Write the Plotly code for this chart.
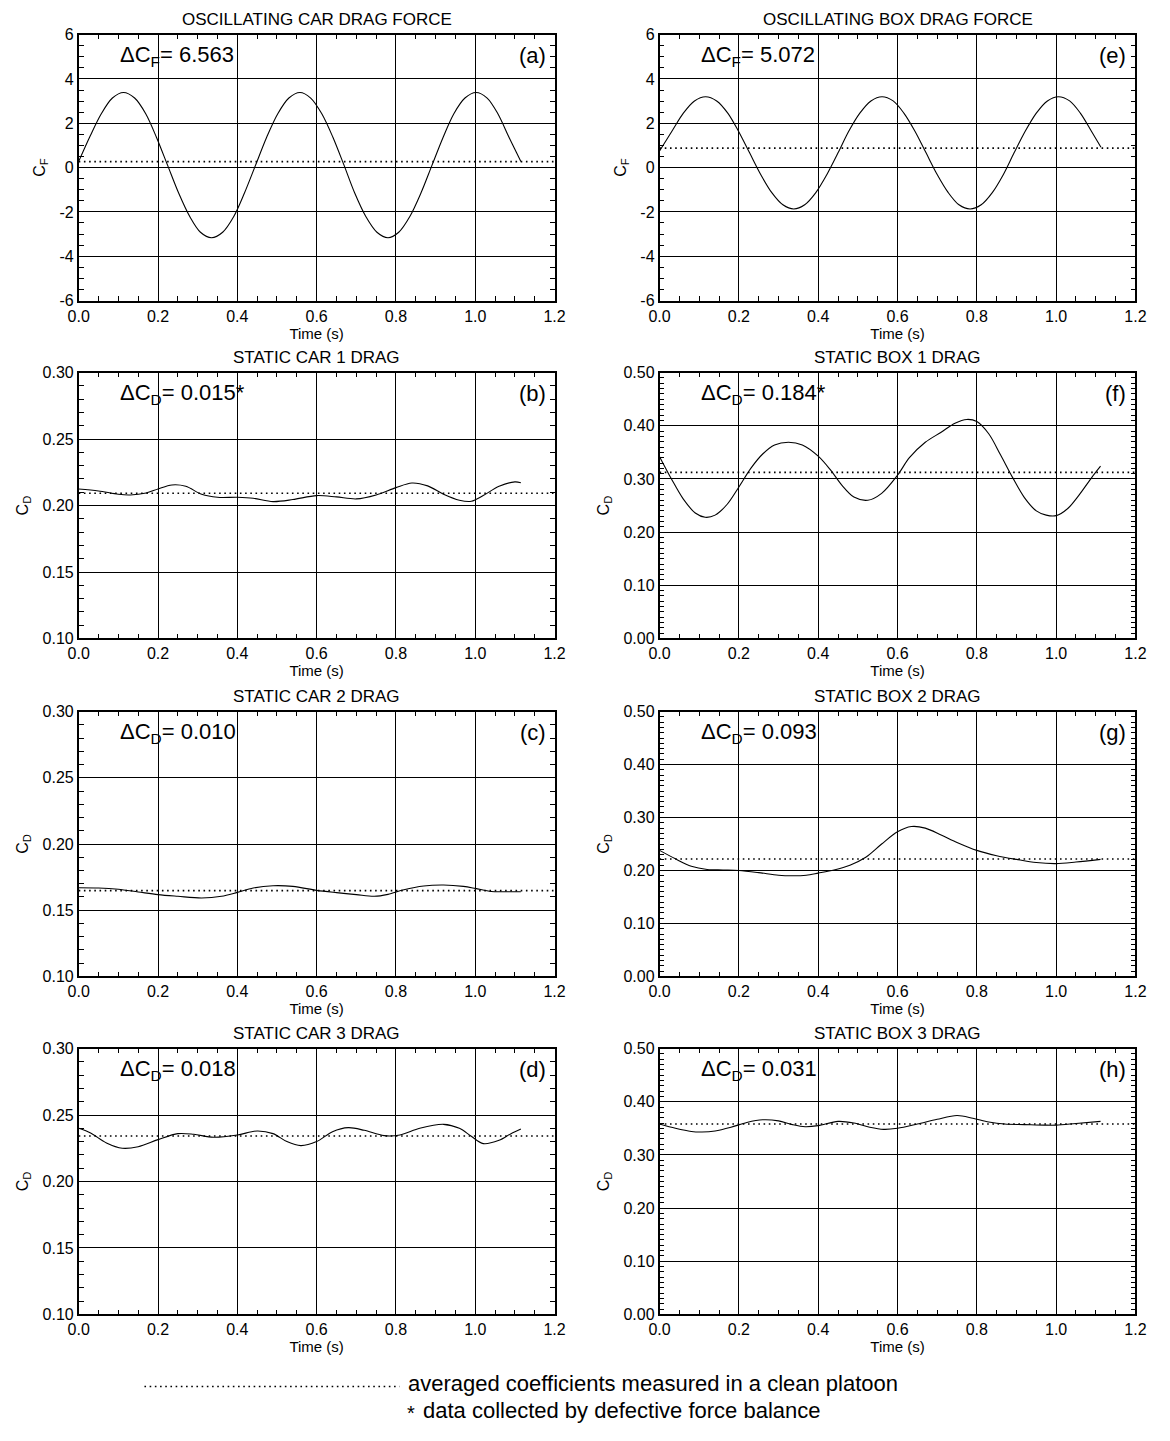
import plotly.graph_objects as go

W, H = 1170, 1441
FONT = "Liberation Sans, Arial, Helvetica, sans-serif"

# ---------------- data: time (s) and coefficient samples ----------------
car_osc_t = [0.000, 0.0295, 0.057, 0.085, 0.113, 0.141, 0.169, 0.196, 0.224, 0.252, 0.280, 0.307,
             0.335, 0.363, 0.391, 0.418, 0.446, 0.474, 0.502, 0.530, 0.558, 0.585, 0.613, 0.641,
             0.669, 0.696, 0.724, 0.752, 0.780, 0.807, 0.835, 0.863, 0.891, 0.919, 0.946, 0.974,
             1.002, 1.030, 1.057, 1.085, 1.115]
car_osc_cf = [0.28, 1.45, 2.43, 3.14, 3.39, 3.14, 2.43, 1.37, 0.11, -1.15, -2.21, -2.92,
              -3.17, -2.92, -2.21, -1.15, 0.11, 1.37, 2.43, 3.14, 3.39, 3.14, 2.43, 1.37,
              0.11, -1.15, -2.21, -2.92, -3.17, -2.92, -2.21, -1.15, 0.11, 1.37, 2.43, 3.14,
              3.39, 3.14, 2.43, 1.37, 0.28]

car1_t = [0.00, 0.05, 0.10, 0.13, 0.17, 0.20, 0.235, 0.27, 0.31, 0.35, 0.40, 0.44, 0.49, 0.54,
          0.60, 0.65, 0.70, 0.75, 0.80, 0.84, 0.88, 0.92, 0.96, 0.99, 1.02, 1.06, 1.10, 1.115]
car1_cd = [0.2125, 0.2110, 0.2085, 0.2080, 0.2095, 0.2125, 0.2155, 0.2145, 0.2085, 0.2062,
           0.2062, 0.2055, 0.2030, 0.2045, 0.2075, 0.2065, 0.2050, 0.2080, 0.2135, 0.2170,
           0.2148, 0.2085, 0.2040, 0.2032, 0.2075, 0.2145, 0.2178, 0.2172]

car2_t = [0.00, 0.05, 0.10, 0.15, 0.20, 0.25, 0.31, 0.36, 0.40, 0.44, 0.49, 0.54, 0.60, 0.65,
          0.70, 0.745, 0.78, 0.82, 0.87, 0.92, 0.97, 1.00, 1.04, 1.08, 1.115]
car2_cd = [0.1670, 0.1668, 0.1658, 0.1638, 0.1618, 0.1605, 0.1592, 0.1605, 0.1635, 0.1668,
           0.1685, 0.1680, 0.1650, 0.1633, 0.1618, 0.1605, 0.1620, 0.1655, 0.1683, 0.1690,
           0.1680, 0.1665, 0.1642, 0.1640, 0.1640]

car3_t = [0.00, 0.03, 0.07, 0.11, 0.15, 0.20, 0.25, 0.29, 0.34, 0.40, 0.45, 0.49, 0.525, 0.56,
          0.60, 0.64, 0.68, 0.72, 0.77, 0.81, 0.86, 0.92, 0.96, 0.99, 1.02, 1.06, 1.09, 1.115]
car3_cd = [0.2400, 0.2365, 0.2290, 0.2250, 0.2262, 0.2315, 0.2360, 0.2355, 0.2333, 0.2350,
           0.2380, 0.2360, 0.2300, 0.2270, 0.2300, 0.2375, 0.2405, 0.2385, 0.2345, 0.2350,
           0.2400, 0.2430, 0.2400, 0.2340, 0.2285, 0.2310, 0.2360, 0.2395]

box_osc_t = [0.000, 0.033, 0.060, 0.088, 0.116, 0.144, 0.172, 0.199, 0.227, 0.255, 0.283, 0.311,
             0.3385, 0.366, 0.394, 0.422, 0.450, 0.477, 0.505, 0.533, 0.561, 0.589, 0.616, 0.644,
             0.672, 0.700, 0.728, 0.755, 0.783, 0.811, 0.839, 0.867, 0.894, 0.922, 0.950, 0.978,
             1.006, 1.034, 1.061, 1.089, 1.113]
box_osc_cf = [0.75, 1.70, 2.46, 3.01, 3.20, 3.01, 2.46, 1.64, 0.665, -0.31, -1.13, -1.68,
              -1.87, -1.68, -1.13, -0.31, 0.665, 1.64, 2.46, 3.01, 3.20, 3.01, 2.46, 1.64,
              0.665, -0.31, -1.13, -1.68, -1.87, -1.68, -1.13, -0.31, 0.665, 1.64, 2.46, 3.01,
              3.20, 3.01, 2.46, 1.64, 0.92]

box1_t = [0.00, 0.03, 0.06, 0.09, 0.115, 0.14, 0.17, 0.20, 0.23, 0.26, 0.29, 0.325, 0.36, 0.40,
          0.43, 0.46, 0.49, 0.525, 0.56, 0.60, 0.63, 0.67, 0.71, 0.745, 0.775, 0.80, 0.83, 0.86,
          0.89, 0.92, 0.95, 0.975, 1.00, 1.03, 1.06, 1.09, 1.112]
box1_cd = [0.342, 0.300, 0.262, 0.236, 0.228, 0.232, 0.252, 0.285, 0.320, 0.347, 0.364, 0.369,
           0.364, 0.343, 0.318, 0.288, 0.266, 0.260, 0.273, 0.307, 0.340, 0.369, 0.388, 0.405,
           0.412, 0.408, 0.385, 0.345, 0.303, 0.265, 0.240, 0.232, 0.231, 0.245, 0.272, 0.303,
           0.324]

box2_t = [0.00, 0.04, 0.08, 0.12, 0.16, 0.20, 0.25, 0.30, 0.335, 0.37, 0.40, 0.44, 0.48, 0.52,
          0.56, 0.60, 0.635, 0.67, 0.71, 0.75, 0.80, 0.85, 0.90, 0.95, 1.00, 1.05, 1.112]
box2_cd = [0.238, 0.222, 0.208, 0.202, 0.201, 0.200, 0.196, 0.191, 0.190, 0.191, 0.195, 0.201,
           0.210, 0.225, 0.250, 0.273, 0.283, 0.280, 0.267, 0.253, 0.238, 0.228, 0.221, 0.215,
           0.213, 0.216, 0.221]

box3_t = [0.00, 0.04, 0.08, 0.107, 0.14, 0.18, 0.22, 0.26, 0.30, 0.335, 0.367, 0.40, 0.45, 0.49,
          0.53, 0.565, 0.60, 0.65, 0.70, 0.75, 0.79, 0.83, 0.87, 0.92, 0.97, 1.00, 1.05, 1.112]
box3_cd = [0.358, 0.350, 0.344, 0.343, 0.345, 0.352, 0.361, 0.366, 0.364, 0.357, 0.353, 0.355,
           0.363, 0.360, 0.352, 0.348, 0.350, 0.358, 0.367, 0.374, 0.369, 0.362, 0.358, 0.357,
           0.356, 0.356, 0.359, 0.363]

# clean-platoon averages (dotted lines)
car_means = [0.27, 0.2093, 0.1648, 0.2342]
box_means = [0.88, 0.3125, 0.2218, 0.358]

car_titles = ["OSCILLATING CAR DRAG FORCE", "STATIC CAR 1 DRAG", "STATIC CAR 2 DRAG", "STATIC CAR 3 DRAG"]
box_titles = ["OSCILLATING BOX DRAG FORCE", "STATIC BOX 1 DRAG", "STATIC BOX 2 DRAG", "STATIC BOX 3 DRAG"]
car_deltas = ["ΔC<sub>F</sub>= 6.563", "ΔC<sub>D</sub>= 0.015*", "ΔC<sub>D</sub>= 0.010", "ΔC<sub>D</sub>= 0.018"]
box_deltas = ["ΔC<sub>F</sub>= 5.072", "ΔC<sub>D</sub>= 0.184*", "ΔC<sub>D</sub>= 0.093", "ΔC<sub>D</sub>= 0.031"]
car_tags = ["(a)", "(b)", "(c)", "(d)"]
box_tags = ["(e)", "(f)", "(g)", "(h)"]

time_ticks = [0.0, 0.2, 0.4, 0.6, 0.8, 1.0, 1.2]
time_labels = ["0.0", "0.2", "0.4", "0.6", "0.8", "1.0", "1.2"]
cf_ticks = [-6, -4, -2, 0, 2, 4, 6]
cf_labels = ["-6", "-4", "-2", "0", "2", "4", "6"]
car_cd_ticks = [0.10, 0.15, 0.20, 0.25, 0.30]
car_cd_labels = ["0.10", "0.15", "0.20", "0.25", "0.30"]
box_cd_ticks = [0.0, 0.1, 0.2, 0.3, 0.4, 0.5]
box_cd_labels = ["0.00", "0.10", "0.20", "0.30", "0.40", "0.50"]

legend_line_text = "averaged coefficients measured in a clean platoon"
legend_star_text = "data collected by defective force balance"

# ---------------- layout geometry (pixels) ----------------
COLS = [(69, 554), (661, 1146)]
ROWS = [(27, 296), (369, 638), (712, 980), (1053, 1322)]

car_series = [(car_osc_t, car_osc_cf), (car1_t, car1_cd), (car2_t, car2_cd), (car3_t, car3_cd)]
box_series = [(box_osc_t, box_osc_cf), (box1_t, box1_cd), (box2_t, box2_cd), (box3_t, box3_cd)]

panels = []
for r in range(4):
    if r == 0:
        ycar = dict(range=[-6, 6], ticks=cf_ticks, labels=cf_labels, minor=0.5, title="C<sub>F</sub>")
        ybox = dict(range=[-6, 6], ticks=cf_ticks, labels=cf_labels, minor=0.5, title="C<sub>F</sub>")
    else:
        ycar = dict(range=[0.10, 0.30], ticks=car_cd_ticks, labels=car_cd_labels, minor=0.01, title="C<sub>D</sub>")
        ybox = dict(range=[0.0, 0.50], ticks=box_cd_ticks, labels=box_cd_labels, minor=0.01, title="C<sub>D</sub>")
    panels.append(dict(col=0, row=r, data=car_series[r], mean=car_means[r], title=car_titles[r],
                       delta=car_deltas[r], tag=car_tags[r], y=ycar))
    panels.append(dict(col=1, row=r, data=box_series[r], mean=box_means[r], title=box_titles[r],
                       delta=box_deltas[r], tag=box_tags[r], y=ybox))

fig = go.Figure()
annotations = []

for i, p in enumerate(panels, start=1):
    sfx = "" if i == 1 else str(i)
    xa, ya = "x" + sfx, "y" + sfx
    t, v = p["data"]
    fig.add_trace(go.Scatter(x=t, y=v, mode="lines", xaxis=xa, yaxis=ya,
                             line=dict(color="black", width=1.1, shape="spline", smoothing=0.9),
                             showlegend=False, hoverinfo="skip"))
    fig.add_trace(go.Scatter(x=[time_ticks[0], time_ticks[-1]], y=[p["mean"], p["mean"]],
                             mode="lines", xaxis=xa, yaxis=ya,
                             line=dict(color="black", width=1.6, dash="1.6px,3.6px"),
                             showlegend=False, hoverinfo="skip"))

    x0, x1 = COLS[p["col"]]
    y0, y1 = ROWS[p["row"]]
    ycfg = p["y"]
    common = dict(showline=True, linecolor="black", linewidth=1.6, mirror="ticks",
                  showgrid=True, gridcolor="black", gridwidth=1.4, zeroline=False,
                  ticks="inside", ticklen=8, tickcolor="black", tickwidth=1.2,
                  tickfont=dict(family=FONT, size=16, color="black"))
    fig.layout["xaxis" + sfx] = dict(
        domain=[x0 / W, x1 / W], anchor=ya, range=[time_ticks[0], time_ticks[-1]],
        tickvals=time_ticks, ticktext=time_labels,
        minor=dict(dtick=0.05, tick0=0, ticks="inside", ticklen=5, tickcolor="black",
                   tickwidth=1.1, showgrid=False),
        title=dict(text="Time (s)", font=dict(family=FONT, size=15, color="black"), standoff=1),
        **common)
    fig.layout["yaxis" + sfx] = dict(
        domain=[1 - y1 / H, 1 - y0 / H], anchor=xa, range=ycfg["range"],
        tickvals=ycfg["ticks"], ticktext=ycfg["labels"],
        minor=dict(dtick=ycfg["minor"], tick0=0, ticks="inside", ticklen=5, tickcolor="black",
                   tickwidth=1.1, showgrid=False),
        title=dict(text=ycfg["title"], font=dict(family=FONT, size=16, color="black"), standoff=10),
        **common)

    xref, yref = xa + " domain", ya + " domain"
    annotations.append(dict(text=p["title"], xref=xref, yref=yref, x=0.5, y=1, xanchor="center",
                            yanchor="middle", yshift=15, showarrow=False,
                            font=dict(family=FONT, size=17, color="black")))
    annotations.append(dict(text=p["delta"], xref=xref, yref=yref, x=0.083, y=1, xanchor="left",
                            yanchor="middle", yshift=-21, showarrow=False,
                            font=dict(family=FONT, size=22, color="black")))
    annotations.append(dict(text=p["tag"], xref=xref, yref=yref, x=1, y=1, xanchor="right",
                            yanchor="middle", yshift=-21, xshift=-7, showarrow=False,
                            font=dict(family=FONT, size=22, color="black")))

# key for the dotted average lines and the asterisk
annotations.append(dict(text=legend_line_text, xref="paper", yref="paper", x=403 / W, y=1 - 1392 / H,
                        xanchor="left", yanchor="middle", showarrow=False,
                        font=dict(family=FONT, size=22, color="black")))
annotations.append(dict(text="*", xref="paper", yref="paper", x=402 / W, y=1 - 1422 / H,
                        xanchor="left", yanchor="middle", showarrow=False,
                        font=dict(family=FONT, size=20, color="black")))
annotations.append(dict(text=legend_star_text, xref="paper", yref="paper", x=418 / W, y=1 - 1419 / H,
                        xanchor="left", yanchor="middle", showarrow=False,
                        font=dict(family=FONT, size=22, color="black")))

fig.update_layout(
    width=W, height=H, margin=dict(l=0, r=0, t=0, b=0),
    paper_bgcolor="white", plot_bgcolor="white",
    annotations=annotations,
    shapes=[dict(type="line", xref="paper", yref="paper", x0=136 / W, x1=396 / W,
                 y0=1 - 1395 / H, y1=1 - 1395 / H,
                 line=dict(color="black", width=1.6, dash="1.6px,3.6px"))],
    font=dict(family=FONT, color="black"),
)

fig.write_html("out.html")
